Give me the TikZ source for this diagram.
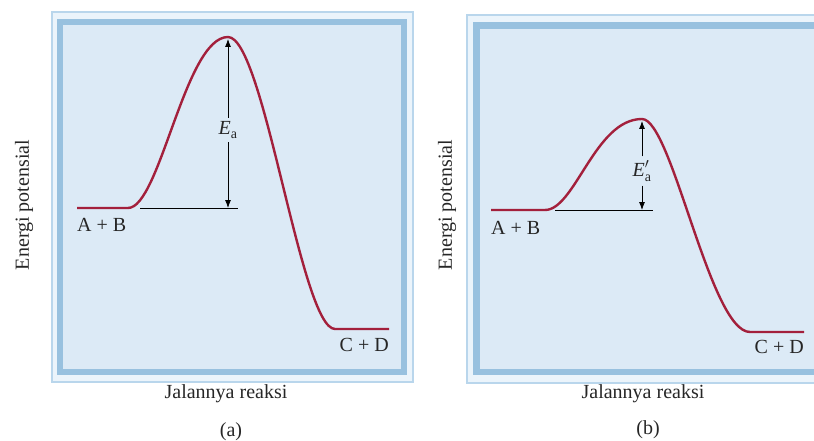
\documentclass[tikz,border=0pt]{standalone}
\usepackage{fontspec}
\setmainfont{Liberation Serif}
\usepackage{xcolor}
\usetikzlibrary{arrows.meta}
\definecolor{panelfill}{HTML}{DCEAF6}
\definecolor{panelpale}{HTML}{EBF4FB}
\definecolor{panelband}{HTML}{98C1DF}
\definecolor{panelline}{HTML}{B9D6EC}
\definecolor{curvered}{HTML}{A3203C}

\begin{document}
\begin{tikzpicture}[x=1pt, y=-1pt, every node/.style={font=\fontsize{20}{24}\selectfont, inner sep=0pt, text=black!85}, frame/.style={draw=panelline,line width=1.5pt,fill=panelpale}, band/.style={draw=panelband,line width=6.5pt,fill=panelfill}, curve/.style={draw=curvered,line width=2.4pt}, level/.style={line width=0.8pt}, arr/.style={-{Latex[length=8pt,width=6pt]},line width=0.8pt}, elabel/.style={inner sep=4pt}]
\useasboundingbox (0,0) rectangle (814,441);
\clip (0,0) rectangle (814,441);
% panel (a)
\draw[frame] (52,12) rectangle (413,382);
\draw[band] (60,22) rectangle (404,372);
\draw[curve] (77,208) -- (128,208) .. controls (160,208) and (185,37) .. (228,37) .. controls (264,37) and (301,329) .. (335,329) -- (389,329);
\coordinate (peakA) at (228,39);
\coordinate (baseA) at (228,208);
\coordinate (startA) at (140,208);
\coordinate (endA) at (238,208);
\draw[level] (startA) -- (endA);
\node[elabel] (eaA) at (228,130) {$\mathit{E}_{\mathrm{a}}$};
\draw[arr] (eaA) -- (peakA);
\draw[arr] (eaA) -- (baseA);
\node[anchor=west] (abA) at (77,225) {A + B};
\node[anchor=east] (cdA) at (389,345) {C + D};
\node[rotate=90] (yA) at (24,205) {Energi potensial};
\node (xA) at (226,394) {Jalannya reaksi};
\node (capA) at (231,432) {(a)};
% panel (b)
\draw[frame] (467,15) rectangle (840,383);
\draw[band] (476.5,25.5) rectangle (830,372);
\draw[curve] (491,210) -- (545,210) .. controls (575,210) and (595,119) .. (642,119) .. controls (672,119) and (710,332) .. (750,332) -- (804,332);
\coordinate (peakB) at (642,121);
\coordinate (baseB) at (642,210);
\coordinate (startB) at (555,210);
\coordinate (endB) at (653,210);
\draw[level] (startB) -- (endB);
\node[elabel] (eaB) at (642,171) {$\mathit{E}'_{\mathrm{a}}$};
\draw[arr] (eaB) -- (peakB);
\draw[arr] (eaB) -- (baseB);
\node[anchor=west] (abB) at (491,228) {A + B};
\node[anchor=east] (cdB) at (804,347) {C + D};
\node[rotate=90] (yB) at (447,205) {Energi potensial};
\node (xB) at (643,394) {Jalannya reaksi};
\node (capB) at (648,430) {(b)};
\end{tikzpicture}
\end{document}
